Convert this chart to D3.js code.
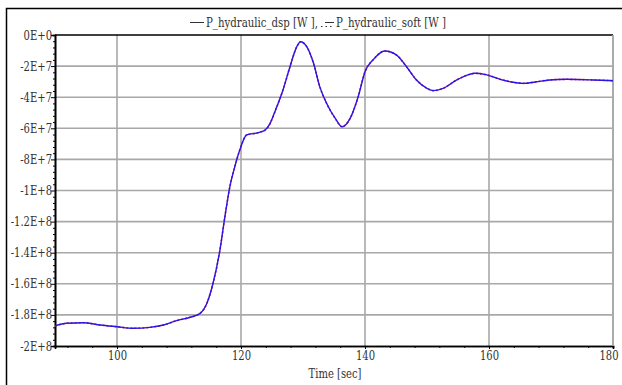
<!DOCTYPE html>
<html><head><meta charset="utf-8">
<script src="https://cdn.jsdelivr.net/npm/d3@7"></script>
<style>
body{margin:0;background:#fff;}
</style></head>
<body><svg id="c" width="622" height="385"></svg>
<script>
const time = [90, 91.9, 94.6, 97.3, 100, 102.6, 105.3, 107.5, 109.6, 111.8, 113.4, 114.5, 115.5, 116.6, 117.4, 118.2, 119.0, 119.8, 120.9, 122.8, 123.9, 124.7, 125.5, 126.8, 127.9, 129.0, 129.6, 130.6, 131.7, 132.7, 133.8, 135.2, 136.3, 137.6, 138.9, 140.0, 141.3, 143.2, 145.1, 146.7, 148.3, 150.0, 151.0, 152.6, 154.8, 156.9, 157.7, 159.5, 161.8, 163.6, 165.5, 167.5, 169.8, 172.5, 176.8, 180];
const pHydraulicDsp = [-1.871e8, -1.854e8, -1.850e8, -1.865e8, -1.876e8, -1.886e8, -1.880e8, -1.865e8, -1.837e8, -1.815e8, -1.790e8, -1.725e8, -1.595e8, -1.383e8, -1.169e8, -9.76e7, -8.47e7, -7.40e7, -6.43e7, -6.28e7, -6.11e7, -5.68e7, -4.90e7, -3.50e7, -2.04e7, -7.5e6, -4.3e6, -7.5e6, -1.82e7, -3.32e7, -4.39e7, -5.36e7, -5.90e7, -5.36e7, -3.97e7, -2.36e7, -1.60e7, -1.03e7, -1.29e7, -2.04e7, -2.89e7, -3.43e7, -3.58e7, -3.43e7, -2.89e7, -2.53e7, -2.46e7, -2.55e7, -2.85e7, -3.02e7, -3.11e7, -3.02e7, -2.89e7, -2.85e7, -2.89e7, -2.94e7];
const pHydraulicSoft = [-1.871e8, -1.854e8, -1.850e8, -1.865e8, -1.876e8, -1.886e8, -1.880e8, -1.865e8, -1.837e8, -1.815e8, -1.790e8, -1.725e8, -1.595e8, -1.383e8, -1.169e8, -9.76e7, -8.47e7, -7.40e7, -6.43e7, -6.28e7, -6.11e7, -5.68e7, -4.90e7, -3.50e7, -2.04e7, -7.5e6, -4.3e6, -7.5e6, -1.82e7, -3.32e7, -4.39e7, -5.36e7, -5.90e7, -5.36e7, -3.97e7, -2.36e7, -1.60e7, -1.03e7, -1.29e7, -2.04e7, -2.89e7, -3.43e7, -3.58e7, -3.43e7, -2.89e7, -2.53e7, -2.46e7, -2.55e7, -2.85e7, -3.02e7, -3.11e7, -3.02e7, -2.89e7, -2.85e7, -2.89e7, -2.94e7];
const xTicks = [100, 120, 140, 160, 180];
const yTicks = [0, -2e7, -4e7, -6e7, -8e7, -1e8, -1.2e8, -1.4e8, -1.6e8, -1.8e8, -2e8];
const yTickLabels = ["0E+0", "-2E+7", "-4E+7", "-6E+7", "-8E+7", "-1E+8", "-1.2E+8", "-1.4E+8", "-1.6E+8", "-1.8E+8", "-2E+8"];
const legendLabels = ["P_hydraulic_dsp [W ],", "P_hydraulic_soft [W ]"];
const xLabel = "Time [sec]";

const FONT = "'DejaVu Serif',serif";
const svg = d3.select("#c");
const L = 55, R = 613, T = 35, B = 346;
const x = d3.scaleLinear().domain([90, 180]).range([L, R]);
const y = d3.scaleLinear().domain([-2e8, 0]).range([B, T]);

// outer frame
svg.append("rect").attr("x", 6.5).attr("y", 8.5).attr("width", 700).attr("height", 500)
  .attr("fill", "none").attr("stroke", "#000").attr("stroke-width", 1.5);

// grid
const g = svg.append("g");
g.selectAll(".gx").data(xTicks).join("line")
  .attr("x1", d => x(d)).attr("x2", d => x(d)).attr("y1", T).attr("y2", B)
  .attr("stroke", "#a8a8a8").attr("stroke-width", 1.6);
g.selectAll(".gy").data(yTicks.slice(1, -1)).join("line")
  .attr("x1", L).attr("x2", R).attr("y1", d => y(d)).attr("y2", d => y(d))
  .attr("stroke", "#a8a8a8").attr("stroke-width", 1.6);

// axes
const xAxis = d3.axisBottom(x).tickValues(xTicks).tickSize(3).tickFormat(d3.format("d"));
const xMinor = d3.axisBottom(x).tickValues(d3.range(92, 180, 4).filter(v => !xTicks.includes(v))).tickSize(2).tickFormat("");
const yAxis = d3.axisLeft(y).tickValues(yTicks).tickSize(4).tickFormat((d, i) => yTickLabels[i]);
const yMinor = d3.axisLeft(y).tickValues(d3.range(-2e8, 0, 4e6).filter(v => !yTicks.includes(v))).tickSize(2).tickFormat("");

function style(sel){
  sel.select(".domain").attr("stroke", "#000").attr("stroke-width", 1.6);
  sel.selectAll(".tick line").attr("stroke", "#000");
  sel.selectAll("text").attr("font-size", 12.5).attr("fill", "#333");
}
svg.append("g").attr("transform", `translate(0,${B})`).call(xMinor).call(style);
svg.append("g").attr("transform", `translate(0,${B})`).call(xAxis).call(style)
  .selectAll("text").attr("dy", "0.85em").attr("y", 3);
svg.append("g").attr("transform", `translate(${L},0)`).call(yMinor).call(style);
svg.append("g").attr("transform", `translate(${L},0)`).call(yAxis).call(style)
  .selectAll("text").attr("x", -3);

// top & right border
svg.append("line").attr("x1", L).attr("x2", R).attr("y1", T).attr("y2", T).attr("stroke", "#000").attr("stroke-width", 1.6);
svg.append("line").attr("x1", R).attr("x2", R).attr("y1", T).attr("y2", B).attr("stroke", "#a8a8a8").attr("stroke-width", 1.6);

// lines
const line = d3.line().x((d, i) => x(time[i])).y(d => y(d)).curve(d3.curveMonotoneX);
svg.append("path").attr("d", line(pHydraulicSoft)).attr("fill", "none")
  .attr("stroke", "#e0203a").attr("stroke-width", 1.6).attr("stroke-dasharray", "2,2");
svg.append("path").attr("d", line(pHydraulicDsp)).attr("fill", "none")
  .attr("stroke", "#2a14e8").attr("stroke-width", 1.4);

// x label
svg.append("text").attr("x", 335).attr("y", 378).attr("text-anchor", "middle")
  .attr("font-size", 12.5).attr("fill", "#333").text(xLabel);

svg.selectAll("text").style("font-family", FONT);
// condensed look like the reference's narrow serif
svg.selectAll("text").each(function(){
  const w = this.getComputedTextLength();
  if (w > 0) d3.select(this).attr("textLength", w * 0.8).attr("lengthAdjust", "spacingAndGlyphs");
});
svg.selectAll("text").filter(function(){ return this.textContent === "180"; }).attr("text-anchor", "end").attr("dx", 5);

// legend / title
const lg = svg.append("g");
lg.append("line").attr("x1", 190).attr("x2", 204).attr("y1", 22.5).attr("y2", 22.5).attr("stroke", "#333").attr("stroke-width", 1);
lg.append("text").attr("x", 206).attr("y", 27).attr("font-size", 12.5).attr("fill", "#333").style("font-family", FONT)
  .attr("textLength", 112).attr("lengthAdjust", "spacingAndGlyphs").text(legendLabels[0]);
lg.append("line").attr("x1", 321).attr("x2", 334).attr("y1", 26.5).attr("y2", 26.5).attr("stroke", "#333").attr("stroke-width", 1).attr("stroke-dasharray", "1.5,3");
lg.append("line").attr("x1", 325).attr("x2", 334).attr("y1", 22.5).attr("y2", 22.5).attr("stroke", "#333").attr("stroke-width", 1);
lg.append("text").attr("x", 336).attr("y", 27).attr("font-size", 12.5).attr("fill", "#333").style("font-family", FONT)
  .attr("textLength", 110).attr("lengthAdjust", "spacingAndGlyphs").text(legendLabels[1]);
</script></body></html>
